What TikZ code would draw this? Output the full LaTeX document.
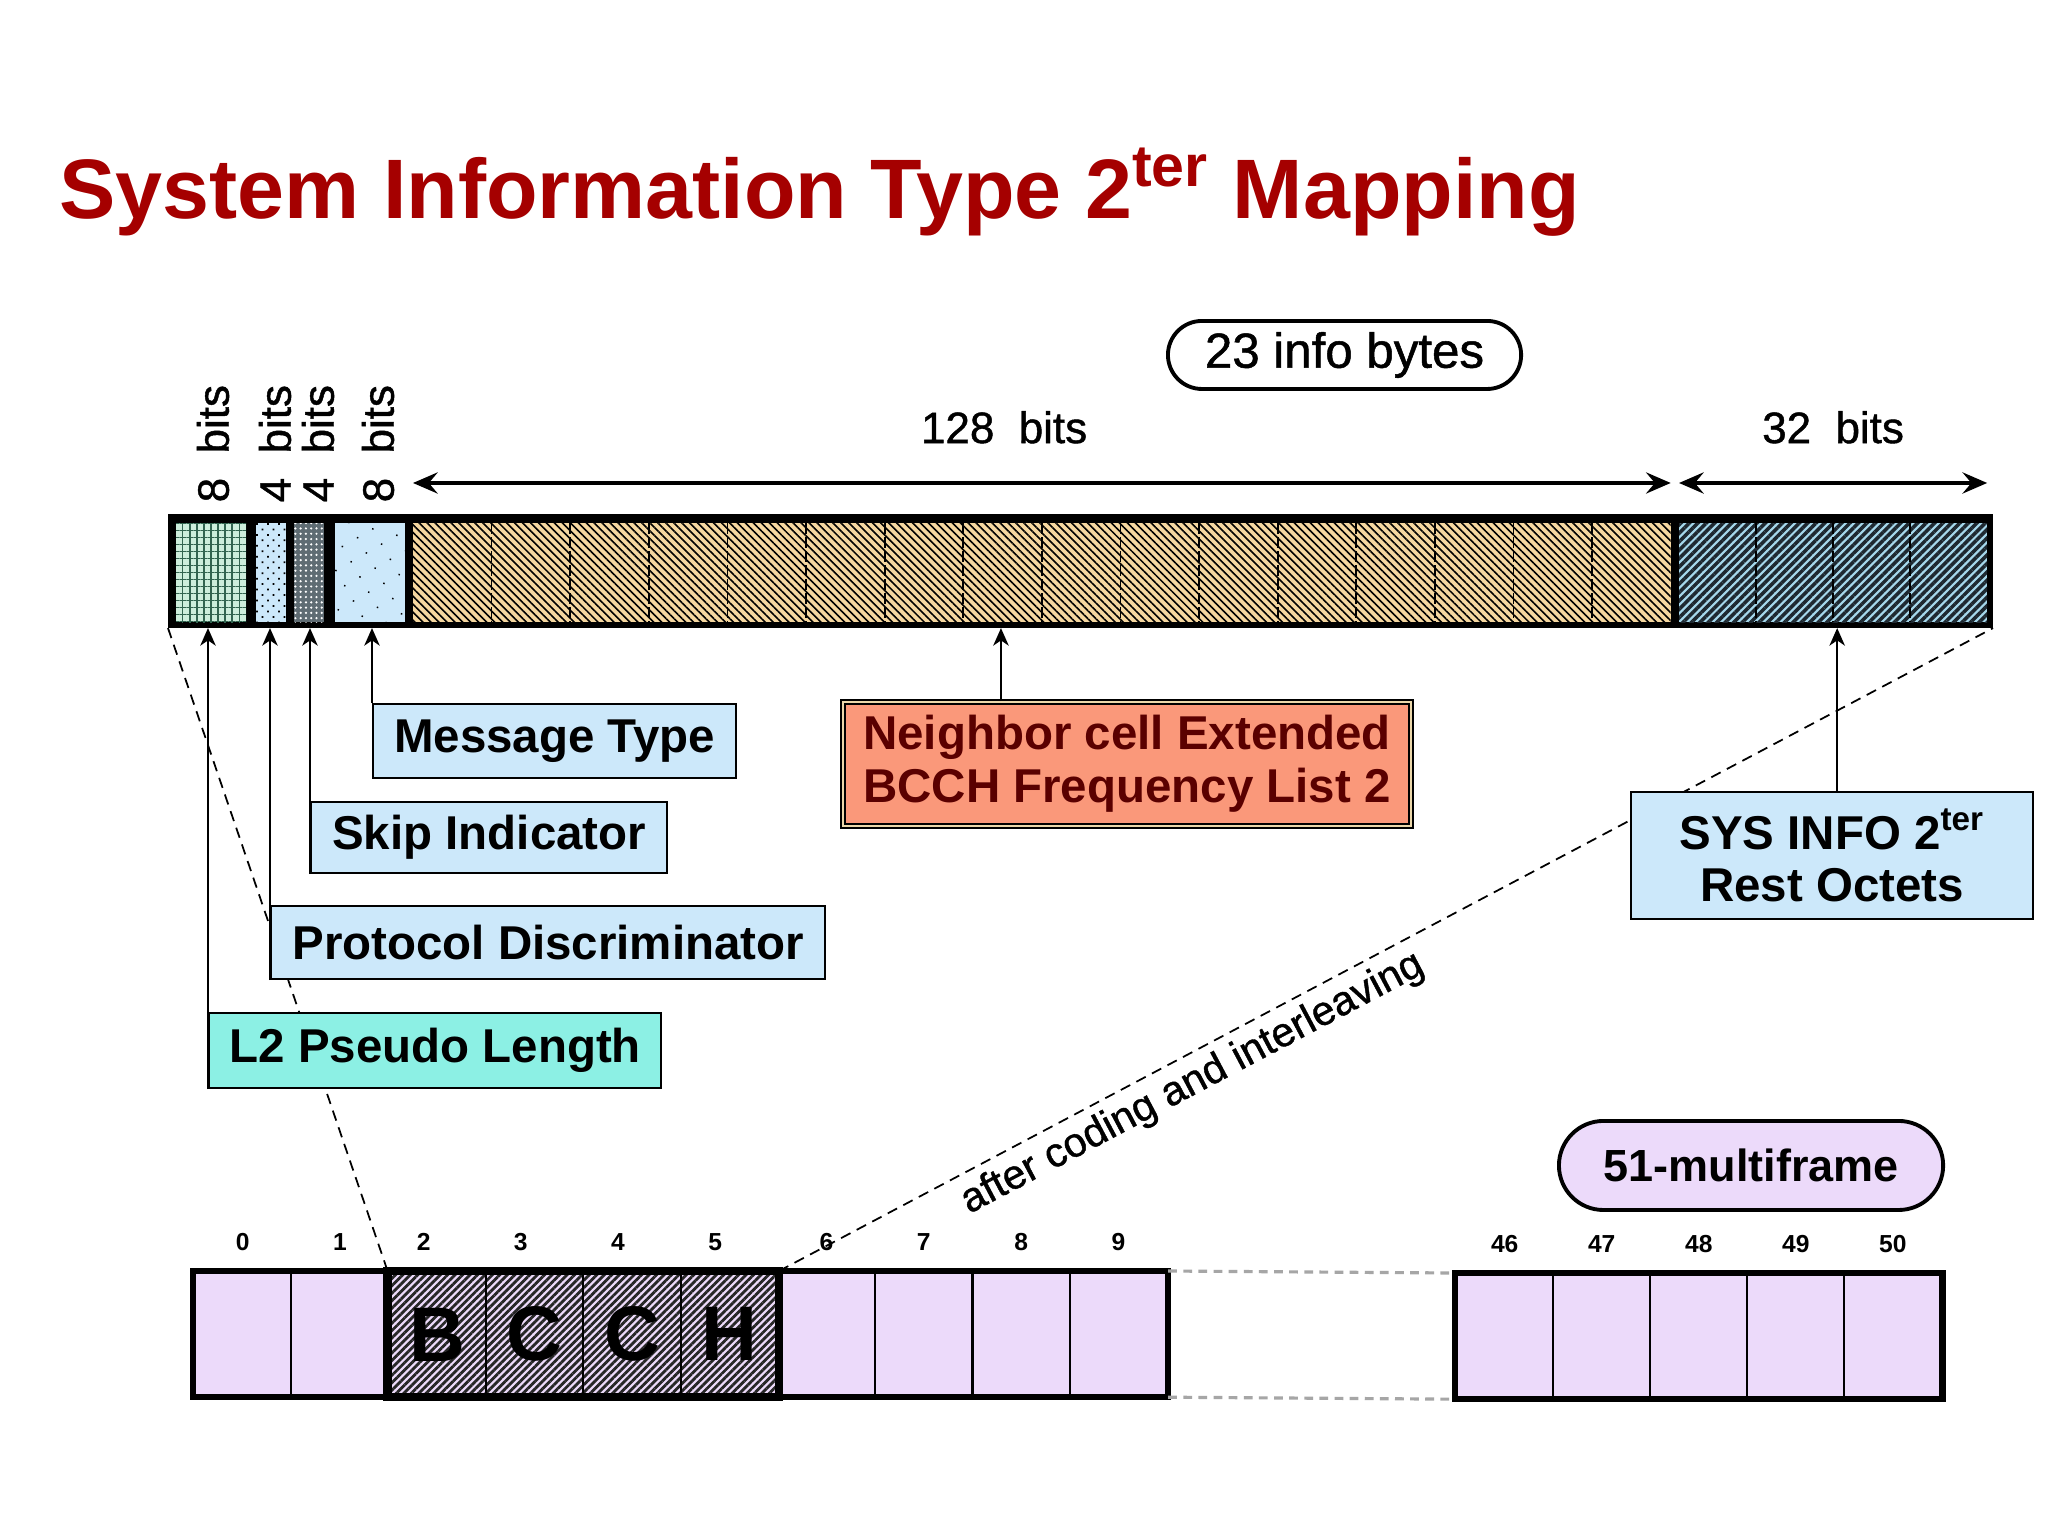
\documentclass[tikz,border=0pt]{standalone}
\usepackage{fontspec}
\setmainfont{Liberation Sans}
\newfontfamily\labelfont{Liberation Sans}[FakeBold=1.0]
\usetikzlibrary{arrows.meta,patterns.meta,calc}

\definecolor{titlered}{RGB}{165,0,0}
\definecolor{skyfill}{RGB}{204,232,250}
\definecolor{aquafill}{RGB}{140,240,228}
\definecolor{salmonfill}{RGB}{250,152,122}
\definecolor{maroontext}{RGB}{90,0,0}
\definecolor{creamline}{RGB}{235,215,170}
\definecolor{slotlilac}{RGB}{236,218,250}
\definecolor{tanfill}{RGB}{245,215,160}
\definecolor{mintfill}{RGB}{205,238,220}
\definecolor{mintink}{RGB}{50,100,80}
\definecolor{slatefill}{RGB}{95,108,115}
\definecolor{seafill}{RGB}{165,215,235}
\definecolor{seaink}{RGB}{30,40,48}

\tikzset{
	sheet/.style={x=0.01cm, y=-0.01cm, font=\labelfont\fontsize{12.5}{15}\selectfont},
	field/.style={anchor=north west, inner sep=0pt, outer sep=0pt, minimum height=0.99cm},
	bitnote/.style={rotate=90, anchor=west, inner sep=0pt},
	spanarrow/.style={<->, line width=1.4pt, >={Stealth[length=7pt,width=6pt,inset=2.5pt]}},
	uparrow/.style={-{Stealth[length=5pt,width=4.4pt,inset=1.5pt]}, line width=0.5pt},
	bytesep/.style={dash pattern=on 3pt off 1pt, line width=0.5pt},
	infobox/.style={draw=black, line width=0.6pt, fill=skyfill, anchor=north west, align=center,
	                inner sep=0pt, font=\rmfamily\fontsize{13.5}{15}\selectfont\bfseries},
	pill/.style={draw, line width=1.1pt, anchor=north west, inner sep=0pt},
	guide/.style={dash pattern=on 3pt off 2pt, line width=0.5pt},
	gapline/.style={dash pattern=on 2.5pt off 1.8pt, line width=0.9pt, gray!70},
	slot/.style={draw, line width=0.6pt, fill=slotlilac, anchor=north west, inner sep=0pt,
	             minimum width=0.973cm, minimum height=1.24cm},
	bcch/.style={preaction={fill=slotlilac}, pattern={Lines[angle=45,distance=1.5pt,line width=0.8pt]},
	             pattern color=black!85, font=\rmfamily\fontsize{22}{24}\selectfont\bfseries},
	slotno/.style={anchor=south, inner sep=0pt, font=\rmfamily\fontsize{7}{8}\selectfont\bfseries},
}

\begin{document}
\begin{tikzpicture}[sheet]
\fill[white] (0,0) rectangle (2048,1536);
\useasboundingbox (0,0) rectangle (2048,1536);

% ---------- title ----------
\node[anchor=base west, inner sep=0pt, text=titlered, font=\rmfamily\fontsize{24}{28}\selectfont\bfseries]
    (title) at (59,218) {System Information Type 2\textsuperscript{ter} Mapping};

% ---------- message bar ----------
\node[fill=black, anchor=north west, inner sep=0pt, outer sep=0pt,
      minimum width=18.24cm, minimum height=1.14cm] (bar) at (168,514) {};

\node[field, minimum width=0.70cm, preaction={fill=mintfill},
      pattern={Hatch[distance=2pt,line width=0.35pt]}, pattern color=mintink] (seg1) at (176,523) {};
\node[field, minimum width=0.30cm, preaction={fill=skyfill},
      pattern={Dots[distance=2.2pt,radius=0.35pt,angle=45]}, pattern color=black] (seg2) at (256,523) {};
\node[field, minimum width=0.30cm, preaction={fill=slatefill},
      pattern={Dots[distance=1.5pt,radius=0.35pt]}, pattern color=white] (seg3) at (294,523) {};
\node[field, minimum width=0.70cm, preaction={fill=skyfill},
      pattern={Dots[distance=5pt,radius=0.3pt,angle=30]}, pattern color=black] (seg4) at (335,523) {};
\node[field, minimum width=12.57cm, preaction={fill=tanfill},
      pattern={Lines[angle=-45,distance=1.6pt,line width=0.45pt]}, pattern color=black] (seg5) at (413,523) {};
\node[field, minimum width=3.08cm, preaction={fill=seafill},
      pattern={Lines[angle=45,distance=1.7pt,line width=1pt]}, pattern color=seaink] (seg6) at (1679,523) {};

\foreach \k in {1,...,15}
    \draw[bytesep] ($(seg5.north west)!\k/16!(seg5.north east)$) -- ($(seg5.south west)!\k/16!(seg5.south east)$);
\foreach \k in {1,2,3}
    \draw[bytesep] ($(seg6.north west)!\k/4!(seg6.north east)$) -- ($(seg6.south west)!\k/4!(seg6.south east)$);

% ---------- bit counts ----------
\node[bitnote] (b1) at ([xshift=0.02cm,yshift=0.2cm]seg1.north) {8~~bits};
\node[bitnote] (b2) at ([xshift=0.04cm,yshift=0.2cm]seg2.north) {4~~bits};
\node[bitnote] (b3) at ([xshift=0.09cm,yshift=0.2cm]seg3.north) {4~~bits};
\node[bitnote] (b4) at ([xshift=0.08cm,yshift=0.2cm]seg4.north) {8~~bits};

\draw[spanarrow] ([yshift=0.4cm]seg5.north west) -- node[pos=0.47, above=0.37cm, inner sep=0pt] (l128) {128~~bits}
                 ([yshift=0.4cm]seg5.north east);
\draw[spanarrow] ([yshift=0.4cm]seg6.north west) -- node[above=0.37cm, inner sep=0pt] (l32) {32~~bits}
                 ([yshift=0.4cm]seg6.north east);

\node[pill, rounded corners=0.34cm, minimum width=3.53cm, minimum height=0.68cm,
      font=\labelfont\fontsize{14}{16}\selectfont] (info) at (1166,319) {23 info bytes};

% ---------- 51-multiframe ----------
\foreach \i in {0,1,6,7,8,9}
    \node[slot] (c\i) at ({193+97.3*\i},1271) {};
\node[slot, bcch] (c2) at ({193+97.3*2},1271) {B};
\node[slot, bcch] (c3) at ({193+97.3*3},1271) {C};
\node[slot, bcch] (c4) at ({193+97.3*4},1271) {C};
\node[slot, bcch] (c5) at ({193+97.3*5},1271) {H};
\foreach \i [count=\j from 0] in {46,...,50}
    \node[slot] (c\i) at ({1455+97*\j},1273) {};

\foreach \i in {0,1,6,7,8,9,46,47,48,49,50}
    \node[slotno] (n\i) at ([yshift=0.2cm]c\i.north) {\i};
\foreach \i in {2,...,5}
    \node[slotno] (n\i) at ([xshift=-0.14cm,yshift=0.2cm]c\i.north) {\i};

\draw[line width=1.8pt] (c0.north west) rectangle (c9.south east);
\draw[line width=2.4pt] (c2.north west) rectangle (c5.south east);
\draw[line width=1.8pt] (c46.north west) rectangle (c50.south east);

\draw[gapline] (c9.north east) -- (c46.north west);
\draw[gapline] (c9.south east) -- (c46.south west);

\node[pill, fill=slotlilac, rounded corners=0.445cm, minimum width=3.84cm, minimum height=0.89cm,
      font=\rmfamily\fontsize{12.8}{15}\selectfont\bfseries] (mf) at (1557,1119) {51-multiframe};

% ---------- mapping ----------
\draw[guide] (bar.south west) -- (c2.north west);
\draw[guide] (c5.north east) -- node[pos=0.33, below=0.08cm, sloped, inner sep=0pt,
             font=\labelfont\fontsize{11.7}{14}\selectfont] (coding) {after coding and interleaving} (bar.south east);

% ---------- field names ----------
\node[infobox, minimum width=3.63cm, minimum height=0.74cm] (mt) at (372,703) {Message Type};
\node[infobox, minimum width=3.56cm, minimum height=0.71cm] (si) at (310,801) {Skip Indicator};
\node[infobox, minimum width=5.54cm, minimum height=0.73cm] (pd) at (270,905) {Protocol Discriminator};
\node[infobox, fill=aquafill, minimum width=4.52cm, minimum height=0.75cm] (l2) at (208,1012) {L2 Pseudo Length};
\node[infobox, fill=salmonfill, text=maroontext, double=creamline, double distance=0.7pt, line width=0.5pt,
      minimum width=5.68cm, minimum height=1.24cm] (nb) at (842,701)
    {Neighbor cell Extended\\BCCH Frequency List 2};
\node[infobox, minimum width=4.02cm, minimum height=1.27cm] (sys) at (1630,791)
    {SYS INFO 2\textsuperscript{ter}\\Rest Octets};

\coordinate (nbfoot) at ([xshift=-1.26cm]nb.north);
\coordinate (sysfoot) at ([xshift=0.05cm]sys.north);

\draw[uparrow] (l2.south west) -- (l2.south west |- bar.south);
\draw[uparrow] (pd.south west) -- (pd.south west |- bar.south);
\draw[uparrow] (si.south west) -- (si.south west |- bar.south);
\draw[uparrow] (mt.north west) -- (mt.north west |- bar.south);
\draw[uparrow] (nbfoot) -- (nbfoot |- bar.south);
\draw[uparrow] (sysfoot) -- (sysfoot |- bar.south);

\end{tikzpicture}
\end{document}
